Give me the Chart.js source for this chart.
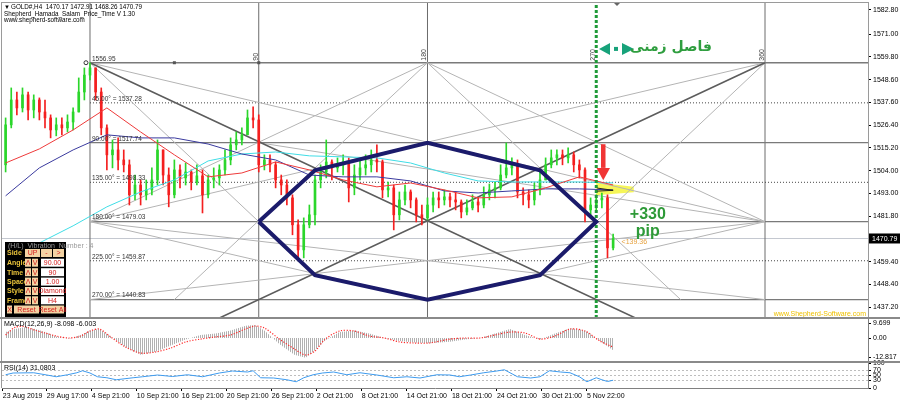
<!DOCTYPE html>
<html>
<head>
<meta charset="utf-8">
<script src="https://cdn.jsdelivr.net/npm/chart.js@4.4.1/dist/chart.umd.min.js"></script>
<style>
    html, body { margin: 0; padding: 0; background: #fff; }
    #wrap { position: relative; width: 900px; height: 401px; overflow: hidden; background: #fff; }
    #wrap canvas { position: absolute; left: 0; }
    .sep { position: absolute; left: 0; width: 900px; height: 2px; background: #8a8a8a; }
</style>
</head>
<body>
<div id="wrap">
    <canvas id="mainChart" width="900" height="318" style="top:0;width:900px;height:318px"></canvas>
    <canvas id="macdChart" width="900" height="44" style="top:318px;width:900px;height:44px"></canvas>
    <canvas id="rsiChart" width="900" height="45" style="top:356px;width:900px;height:45px"></canvas>
    <div class="sep" style="top:317px"></div>
    <div class="sep" style="top:361px"></div>
</div>
<script>
// ---- data (time unit = one H4 bar, 0 = start of the Gann box) ----
var firstCandleTime = -45;
var candleStep = 3;
var firstOpen = 1506.9;
var candleClose = [1526.5, 1538.7, 1534.8, 1541.2, 1533.8, 1538.7, 1532.8, 1529.9, 1524.0, 1526.5,
    1525.0, 1527.9, 1532.8, 1542.6, 1550.9, 1554.4, 1542.6, 1525.0, 1511.8, 1514.2,
    1509.3, 1506.9, 1492.2, 1497.0, 1492.2, 1494.6, 1499.5, 1514.2, 1501.9, 1492.2,
    1504.4, 1500.5, 1503.4, 1498.5, 1501.5, 1492.2, 1499.5, 1500.5, 1504.4, 1509.3,
    1516.7, 1519.1, 1521.6, 1529.9, 1528.9, 1506.9, 1509.3, 1506.9, 1499.5, 1497.0,
    1490.7, 1477.5, 1465.2, 1477.5, 1482.4, 1499.5, 1503.4, 1508.3, 1505.4, 1506.9,
    1508.3, 1495.6, 1501.9, 1505.4, 1506.9, 1509.3, 1508.3, 1494.6, 1495.6, 1482.4,
    1489.7, 1493.6, 1489.7, 1482.4, 1480.9, 1487.2, 1490.7, 1489.7, 1491.2, 1489.7,
    1488.7, 1483.8, 1485.8, 1488.7, 1487.2, 1492.2, 1494.6, 1495.6, 1501.9, 1505.4,
    1506.9, 1493.6, 1492.2, 1489.7, 1494.6, 1499.5, 1506.9, 1510.3, 1511.8, 1510.3,
    1511.8, 1506.9, 1504.4, 1484.8, 1487.2, 1489.7, 1490.7, 1466.2, 1470.79];
var candleHigh = [1529.9, 1544.6, 1542.6, 1544.6, 1542.6, 1541.2, 1539.7, 1538.7, 1531.4, 1529.9,
    1529.9, 1531.4, 1534.8, 1549.5, 1554.4, 1556.95, 1554.4, 1544.6, 1526.5, 1519.1,
    1520.1, 1514.2, 1509.3, 1501.9, 1499.5, 1499.5, 1505.4, 1519.1, 1514.2, 1505.4,
    1509.3, 1506.9, 1507.8, 1504.4, 1506.9, 1504.4, 1501.9, 1505.4, 1506.9, 1514.2,
    1520.1, 1523.0, 1525.0, 1533.8, 1535.3, 1531.4, 1511.8, 1511.8, 1508.3, 1501.9,
    1499.5, 1492.2, 1479.9, 1480.9, 1487.2, 1501.9, 1506.9, 1519.1, 1509.3, 1510.3,
    1511.8, 1510.3, 1506.9, 1510.3, 1511.8, 1514.2, 1516.7, 1509.3, 1498.5, 1497.0,
    1493.6, 1497.0, 1494.6, 1490.7, 1487.2, 1490.7, 1493.6, 1493.6, 1494.6, 1493.1,
    1493.6, 1489.7, 1489.7, 1492.2, 1490.7, 1496.1, 1497.5, 1498.5, 1506.9, 1517.6,
    1510.3, 1509.3, 1495.6, 1494.6, 1498.0, 1503.4, 1510.3, 1514.2, 1514.2, 1514.2,
    1515.2, 1513.2, 1509.3, 1505.4, 1490.7, 1492.2, 1493.1, 1492.2, 1472.91];
var candleLow = [1503.4, 1525.0, 1531.4, 1532.8, 1528.9, 1529.9, 1528.9, 1525.0, 1520.1, 1521.1,
    1521.6, 1523.0, 1524.0, 1532.8, 1538.7, 1548.5, 1538.7, 1521.6, 1504.4, 1505.4,
    1504.4, 1503.4, 1487.2, 1489.7, 1487.2, 1489.7, 1492.2, 1497.0, 1497.0, 1486.3,
    1490.7, 1495.6, 1497.0, 1494.6, 1497.0, 1483.3, 1490.7, 1495.6, 1497.0, 1501.9,
    1506.9, 1514.2, 1516.7, 1521.6, 1525.0, 1503.4, 1504.4, 1503.4, 1495.6, 1492.2,
    1487.2, 1472.6, 1460.3, 1461.3, 1476.0, 1477.5, 1495.6, 1500.5, 1499.5, 1503.4,
    1501.9, 1488.7, 1492.2, 1499.5, 1501.9, 1503.4, 1503.4, 1490.7, 1491.2, 1475.0,
    1479.9, 1487.2, 1485.8, 1478.9, 1477.5, 1479.9, 1483.8, 1485.8, 1487.2, 1486.3,
    1484.8, 1480.9, 1482.4, 1484.8, 1483.8, 1485.8, 1489.7, 1490.7, 1494.6, 1500.5,
    1501.9, 1490.7, 1487.2, 1485.8, 1487.2, 1492.2, 1499.5, 1505.4, 1506.9, 1506.9,
    1507.8, 1503.4, 1500.5, 1478.9, 1482.4, 1483.8, 1485.8, 1461.3, 1465.2];

var maTimes = [-45, -27, -9, 9, 27, 45, 63, 81, 99, 117, 135, 153, 171, 189, 207, 225, 243, 261, 279];
var maRed = [1507.8, 1514.7, 1524.0, 1534.8, 1523.0, 1511.8, 1501.0, 1502.9, 1508.3, 1504.4, 1499.5, 1496.1, 1498.0, 1494.6, 1490.7, 1491.2, 1495.6, 1501.0, 1497.0];
var maBlue = [1491.7, 1505.4, 1514.2, 1521.6, 1520.1, 1520.1, 1517.1, 1512.2, 1509.3, 1501.9, 1501.0, 1501.0, 1499.0, 1494.1, 1493.1, 1494.1, 1495.1, 1495.1, 1494.6];
var maCyan = [null, 1468.6, 1477.0, 1486.3, 1493.6, 1499.5, 1508.8, 1512.2, 1513.2, 1511.3, 1510.8, 1510.3, 1507.8, 1502.9, 1499.0, 1498.5, 1498.5, 1498.5, 1498.0];

var gannTimes = [0, 90, 180, 270, 360];
var gannLevels = [1556.95, 1537.28, 1517.74, 1498.33, 1479.03, 1459.87, 1440.83];
var gannAngles = ['', '45.00°', '90.00°', '135.00°', '180.00°', '225.00°', '270.00°'];
var gannDarkRays = [[0, 1556.95, 330, 1415.0], [40, 1419.33, 360, 1556.95]];
var gannLightRays = [
    [0, 1556.95, 360, 1479.03], [360, 1556.95, 0, 1479.03],
    [0, 1556.95, 90, 1479.03], [360, 1556.95, 270, 1479.03],
    [180, 1556.95, 45, 1440.83], [180, 1556.95, 315, 1440.83],
    [180, 1556.95, 0, 1479.03], [180, 1556.95, 360, 1479.03],
    [180, 1440.83, 0, 1479.03], [180, 1440.83, 360, 1479.03],
    [0, 1479.03, 360, 1440.83], [0, 1440.83, 360, 1479.03],
    [90, 1517.74, 360, 1479.03]
];
var hexTimes = [90, 120, 180, 240, 270, 240, 180, 120, 90];
var hexPrices = [1479.03, 1504.2, 1517.74, 1504.2, 1479.03, 1452.8, 1440.83, 1452.8, 1479.03];

var priceTicks = [1582.80, 1571.00, 1559.80, 1548.60, 1537.60, 1526.40, 1515.20, 1504.00, 1493.00, 1481.80, 1459.40, 1448.40, 1437.20];
var lastPrice = 1470.79;

var macdTimes = [-45, -40, -35, -29, -24, -18, -11, -5, 0, 5, 11, 19, 27, 35, 43, 51, 59, 67, 75, 83, 88, 93, 101, 109, 115, 120, 125, 133, 141, 149, 157, 165, 173, 181, 192, 200, 208, 216, 224, 232, 240, 248, 256, 264, 272, 279];
var macdMain = [4, 6, 7, 6, 4, 1, -0.5, 2, 5, 6, 1, -6, -11, -9, -5, -1, 2, 3, 5, 8, 8.5, 5, -4, -11, -13, -8, -2, 4, 5, 3, 0, -2, -3, -3.5, -2.5, -1, 0, 3, 6, 2, -1, 3, 6.5, 5, -2, -8.098];
var macdSignal = [2, 7, 7.5, 5, 3.3, 1.3, 0, 1.3, 4.6, 5.9, 0.7, -6, -9.9, -9.2, -6.6, -2.6, -0.7, 0.7, 2, 6, 7.9, 6.6, -0.7, -7.2, -11.2, -8.6, -1.3, 4.6, 4.6, 1.3, 0, -2.6, -3.3, -3.3, -0.7, 0, 0, 2, 3.9, 3.3, -0.7, 1.3, 5.9, 4.6, -2, -6.003];
var macdTickValues = [9.699, 0, -12.817];
var macdTickLabels = ['9.699', '0.00', '-12.817'];

var rsiTimes = [-45, -41, -30, -23, -18, -12, -7, -4, 0, 4, 9, 14, 23, 28, 36, 44, 52, 60, 69, 76, 84, 87, 91, 98, 105, 110, 114, 119, 124, 130, 137, 144, 153, 162, 169, 176, 185, 192, 197, 203, 210, 217, 221, 228, 235, 240, 245, 251, 256, 261, 265, 270, 273, 276, 279];
var rsiValues = [53, 60, 61, 52, 45, 53, 61, 69, 60, 45, 41, 33, 41, 45, 52, 46, 53, 45, 60, 68, 64, 69, 41, 40, 33, 25, 41, 53, 60, 64, 53, 61, 52, 41, 45, 40, 53, 52, 45, 52, 61, 68, 73, 45, 40, 45, 69, 64, 61, 45, 25, 41, 33, 26, 31.08];
var rsiLevels = [70, 50, 30];
var rsiTickValues = [100, 70, 50, 30, 0];

var dateTicks = [-46.5, -23, 1, 25, 49, 73, 97, 121, 145, 169, 193, 217, 241, 265];
var dateLabels = ['23 Aug 2019', '29 Aug 17:00', '4 Sep 21:00', '10 Sep 21:00', '16 Sep 21:00', '20 Sep 21:00', '26 Sep 21:00',
    '2 Oct 21:00', '8 Oct 21:00', '14 Oct 21:00', '18 Oct 21:00', '24 Oct 21:00', '30 Oct 21:00', '5 Nov 22:00'];

// ---- shared settings ----
var FONT = "'Liberation Sans', Arial, sans-serif";
var X_MIN = -46.93, X_MAX = 414.93;
var BULL = '#2bd62b', BEAR = '#f41f1f';

function pts(xs, ys) {
    return xs.map(function (t, i) { return { x: t, y: ys[i] }; });
}

function segs(list) {
    var out = [];
    list.forEach(function (s) {
        out.push({ x: s[0], y: s[1] }, { x: s[2], y: s[3] }, { x: s[2], y: null });
    });
    return out;
}

function lineSet(data, color, width, extra) {
    return Object.assign({
        type: 'line', data: data, borderColor: color, borderWidth: width,
        pointRadius: 0, fill: false, tension: 0, spanGaps: false
    }, extra || {});
}

function rightAxis(opts) {
    return Object.assign({
        position: 'right',
        afterFit: function (s) { s.width = 32; s.paddingTop = 0; s.paddingBottom = 0; },
        grid: { drawOnChartArea: false, drawTicks: true, tickLength: 3, color: '#000' },
        border: { display: true, color: '#808080' }
    }, opts);
}

function txt(ctx, s, x, y, font, color, align, base) {
    ctx.font = font;
    ctx.fillStyle = color;
    ctx.textAlign = align || 'left';
    ctx.textBaseline = base || 'middle';
    ctx.fillText(s, x, y);
}

var baseOptions = {
    responsive: false,
    animation: false,
    devicePixelRatio: 1,
    events: [],
    plugins: { legend: { display: false }, tooltip: { enabled: false } }
};

// ---- main price panel ----
var candleTimes = candleClose.map(function (c, i) { return firstCandleTime + i * candleStep; });
var candleOpen = candleClose.map(function (c, i) { return i === 0 ? firstOpen : candleClose[i - 1]; });
var candleColors = candleClose.map(function (c, i) { return c >= candleOpen[i] ? BULL : BEAR; });

var verticalSegs = gannTimes.filter(function (t) { return t !== 270; }).map(function (t) { return [t, 1400, t, 1600]; });
var solidLevelSegs = [0, 2, 4, 6].map(function (i) { return [0, gannLevels[i], 420, gannLevels[i]]; });
var dottedLevelSegs = [1, 3, 5].map(function (i) { return [0, gannLevels[i], 420, gannLevels[i]]; });

var mainOverlay = {
    id: 'mainOverlay',
    beforeDatasetsDraw: function (chart) {
        var ctx = chart.ctx, a = chart.chartArea, x = chart.scales.x, y = chart.scales.y;
        ctx.save();
        // bid line
        var yb = Math.round(y.getPixelForValue(lastPrice)) + 0.5;
        ctx.strokeStyle = '#c4c8d0';
        ctx.lineWidth = 1;
        ctx.beginPath(); ctx.moveTo(a.left, yb); ctx.lineTo(a.right, yb); ctx.stroke();
        // yellow marker near the break
        ctx.fillStyle = 'rgba(245,245,70,0.9)';
        ctx.beginPath();
        ctx.moveTo(x.getPixelForValue(270), y.getPixelForValue(1498.2));
        ctx.lineTo(x.getPixelForValue(290), y.getPixelForValue(1496.2));
        ctx.lineTo(x.getPixelForValue(290), y.getPixelForValue(1493.4));
        ctx.lineTo(x.getPixelForValue(270), y.getPixelForValue(1492.0));
        ctx.closePath(); ctx.fill();
        ctx.restore();
    },
    afterDatasetsDraw: function (chart) {
        var ctx = chart.ctx, a = chart.chartArea, x = chart.scales.x, y = chart.scales.y;
        var f7 = '7px ' + FONT;
        ctx.save();

        // small black triangle inside the yellow marker
        ctx.strokeStyle = '#222'; ctx.lineWidth = 1;
        ctx.beginPath();
        ctx.moveTo(x.getPixelForValue(270.5), y.getPixelForValue(1495.5));
        ctx.lineTo(x.getPixelForValue(279), y.getPixelForValue(1494.4));
        ctx.lineTo(x.getPixelForValue(270.5), y.getPixelForValue(1494.0));
        ctx.stroke();

        // Gann level labels
        var x0 = x.getPixelForValue(0);
        gannLevels.forEach(function (p, i) {
            var s = i === 0 ? p.toFixed(2) : gannAngles[i] + ' = ' + p.toFixed(2);
            txt(ctx, s, x0 + 2, y.getPixelForValue(p) - 4, '6.5px ' + FONT, '#333', 'left', 'middle');
        });
        // origin marker and small dots
        ctx.strokeStyle = '#333';
        ctx.beginPath(); ctx.arc(x0 - 4, y.getPixelForValue(1556.95), 2, 0, Math.PI * 2); ctx.stroke();
        ctx.fillStyle = '#555';
        [45, 90].forEach(function (t) {
            ctx.fillRect(x.getPixelForValue(t) - 1.5, y.getPixelForValue(1556.95) - 1.5, 3, 3);
        });
        // rotated time labels
        gannTimes.slice(1).forEach(function (t) {
            ctx.save();
            ctx.translate(x.getPixelForValue(t) - 3, y.getPixelForValue(1556.95) - 2);
            ctx.rotate(-Math.PI / 2);
            txt(ctx, String(t), 0, 0, f7, '#444', 'left', 'middle');
            ctx.restore();
        });

        // header
        var fh = '6.3px ' + FONT;
        txt(ctx, '▼', 4, 7, '6px ' + FONT, '#000', 'left', 'middle');
        txt(ctx, 'GOLD#,H4  1470.17 1472.91 1468.26 1470.79', 11, 7, fh, '#000', 'left', 'middle');
        txt(ctx, 'Shepherd_Hamada_Salam_Price_Time V 1.30', 4, 13.8, fh, '#000', 'left', 'middle');
        txt(ctx, 'www.shepherd-software.com', 4, 20, fh, '#000', 'left', 'middle');

        // top marker
        ctx.fillStyle = '#666';
        ctx.beginPath(); ctx.moveTo(614, 3); ctx.lineTo(620, 3); ctx.lineTo(617, 6); ctx.closePath(); ctx.fill();

        // time-interval caption
        var ya = y.getPixelForValue(1564.7);
        ctx.fillStyle = '#17a27a';
        ctx.beginPath(); ctx.moveTo(599, ya + 2); ctx.lineTo(610, ya - 4); ctx.lineTo(610, ya + 8); ctx.closePath(); ctx.fill();
        ctx.fillRect(614, ya, 4, 4);
        ctx.beginPath(); ctx.moveTo(622, ya - 4); ctx.lineTo(622, ya + 8); ctx.lineTo(634, ya + 2); ctx.closePath(); ctx.fill();
        txt(ctx, 'فاصل زمنی', 671, ya, "bold 14px 'DejaVu Sans', sans-serif", '#2f9e3f', 'center', 'middle');

        // red arrow
        var xa = x.getPixelForValue(273.6);
        var yTop = y.getPixelForValue(1517.0), yNeck = y.getPixelForValue(1505.4), yTip = y.getPixelForValue(1499.3);
        ctx.fillStyle = '#f03535';
        ctx.fillRect(xa - 2, yTop, 4.5, yNeck - yTop);
        ctx.beginPath(); ctx.moveTo(xa - 6.5, yNeck); ctx.lineTo(xa + 7, yNeck); ctx.lineTo(xa + 0.25, yTip); ctx.closePath(); ctx.fill();

        // +330 pip
        var xg = x.getPixelForValue(297.5);
        txt(ctx, '+330', xg, y.getPixelForValue(1482.4), 'bold 16px ' + FONT, '#2e9a38', 'center', 'middle');
        txt(ctx, 'pip', xg, y.getPixelForValue(1474.0), 'bold 16px ' + FONT, '#2e9a38', 'center', 'middle');
        txt(ctx, '<139.36', x.getPixelForValue(283.5), y.getPixelForValue(1468.8), '7px ' + FONT, '#e6a03c', 'left', 'middle');

        // watermark
        txt(ctx, 'www.Shepherd-Software.com', a.right - 2, a.bottom - 4, f7, '#eec000', 'right', 'middle');

        drawPanel(ctx);
        ctx.restore();
    },
    afterDraw: function (chart) {
        var ctx = chart.ctx, a = chart.chartArea, y = chart.scales.y;
        ctx.save();
        ctx.strokeStyle = '#9a9a9a'; ctx.lineWidth = 1;
        ctx.strokeRect(a.left - 0.5, a.top - 0.5, a.right - a.left + 1, a.bottom - a.top + 1);
        var yp = y.getPixelForValue(lastPrice);
        ctx.fillStyle = '#000';
        ctx.fillRect(a.right + 1, yp - 5, 31, 10);
        txt(ctx, lastPrice.toFixed(2), a.right + 4, yp + 0.5, '7px ' + FONT, '#fff', 'left', 'middle');
        ctx.restore();
    }
};

function drawPanel(ctx) {
    var f = '7px ' + FONT, fb = 'bold 7px ' + FONT;
    var beige = '#f3d3a3', red = '#d42020';
    ctx.fillStyle = '#000';
    ctx.fillRect(5, 242, 61, 75);
    txt(ctx, '(H/L)  Vibration  Number : 4', 8, 246.5, f, '#9a9a9a', 'left', 'middle');

    function btn(x1, x2, yc, label, bg) {
        ctx.fillStyle = bg;
        ctx.fillRect(x1, yc - 4, x2 - x1, 8);
        txt(ctx, label, (x1 + x2) / 2, yc + 0.5, f, red, 'center', 'middle');
    }

    var rows = [['Side', 253], ['Angle', 262.7], ['Time', 272.2], ['Space', 281.6], ['Style', 291], ['Frame', 300.3]];
    var values = ['', '90.00', '90', '1.00', 'Diamond', 'H4'];
    rows.forEach(function (r, i) {
        txt(ctx, r[0], 7, r[1] + 0.5, fb, '#e8c23a', 'left', 'middle');
        if (i === 0) {
            btn(25, 40, r[1], 'UP', beige);
            btn(41, 52, r[1], '-', beige);
            btn(53, 64, r[1], '>', beige);
        } else {
            btn(25, 31, r[1], 'Λ', beige);
            btn(32, 38, r[1], 'V', beige);
            btn(41, 64, r[1], values[i], '#ffffff');
        }
    });
    btn(7, 12, 309.5, 'X', beige);
    btn(14, 39, 309.5, 'Reset', beige);
    btn(41, 64, 309.5, 'Reset All', beige);
}

new Chart(document.getElementById('mainChart'), {
    type: 'bar',
    data: {
        datasets: [
            lineSet(pts(hexTimes, hexPrices), '#1b1b6b', 4, { order: 0, borderJoinStyle: 'miter' }),
            lineSet([{ x: 270, y: 1400 }, { x: 270, y: 1600 }], '#1f9a38', 3, { order: 1, borderDash: [3, 2] }),
            lineSet(pts(maTimes, maRed), '#ee3a3a', 1, { order: 2 }),
            lineSet(pts(maTimes, maBlue), '#3a3a9e', 1, { order: 2 }),
            lineSet(pts(maTimes, maCyan), '#3fdde6', 1, { order: 2 }),
            {
                type: 'bar', order: 3, grouped: false, barThickness: 2, minBarLength: 1,
                data: candleTimes.map(function (t, i) { return { x: t, y: [candleOpen[i], candleClose[i]] }; }),
                backgroundColor: candleColors, borderWidth: 0
            },
            {
                type: 'bar', order: 4, grouped: false, barThickness: 1,
                data: candleTimes.map(function (t, i) { return { x: t, y: [candleLow[i], candleHigh[i]] }; }),
                backgroundColor: candleColors, borderWidth: 0
            },
            lineSet(segs(gannDarkRays), '#5c5c5c', 1.6, { order: 5 }),
            lineSet(segs(gannLightRays), '#b4b4b4', 1, { order: 6 }),
            lineSet(segs(solidLevelSegs), '#7a7a7a', 1.3, { order: 7 }),
            lineSet(segs(dottedLevelSegs), '#444444', 1, { order: 7, borderDash: [1, 2] }),
            lineSet(segs(verticalSegs), '#6c6c6c', 1, { order: 8 })
        ]
    },
    options: Object.assign({}, baseOptions, {
        layout: { padding: { left: 2, top: 3, right: 0, bottom: 0 } },
        scales: {
            x: { type: 'linear', min: X_MIN, max: X_MAX, display: false, offset: false },
            y: rightAxis({
                min: 1431.81, max: 1586.23,
                afterBuildTicks: function (s) { s.ticks = priceTicks.map(function (v) { return { value: v }; }); },
                ticks: { autoSkip: false, padding: 2, color: '#000', font: { family: FONT, size: 7 },
                    callback: function (v) { return Number(v).toFixed(2); } }
            })
        }
    }),
    plugins: [mainOverlay]
});

// ---- MACD panel ----
var hatchCanvas = document.createElement('canvas');
hatchCanvas.width = 2; hatchCanvas.height = 2;
var hctx = hatchCanvas.getContext('2d');
hctx.fillStyle = '#b0b0b0';
hctx.fillRect(0, 0, 1, 2);
var hatch = hctx.createPattern(hatchCanvas, 'repeat');

var panelOverlay = function (id, title, ty) {
    return {
        id: id,
        afterDraw: function (chart) {
            var ctx = chart.ctx, a = chart.chartArea;
            ctx.save();
            ctx.strokeStyle = '#9a9a9a'; ctx.lineWidth = 1;
            ctx.beginPath(); ctx.moveTo(a.left - 0.5, a.top); ctx.lineTo(a.left - 0.5, a.bottom); ctx.stroke();
            txt(ctx, title, 4, ty, '7px ' + FONT, '#000', 'left', 'middle');
            ctx.restore();
        }
    };
};

new Chart(document.getElementById('macdChart'), {
    type: 'line',
    data: {
        datasets: [
            { data: pts(macdTimes, macdMain), backgroundColor: hatch, fill: 'origin', borderWidth: 0,
                borderColor: 'rgba(0,0,0,0)', pointRadius: 0, tension: 0, order: 2 },
            lineSet(pts(macdTimes, macdSignal), '#ff2b2b', 1.2, { order: 1, borderDash: [1.2, 1.6], tension: 0.3 })
        ]
    },
    options: Object.assign({}, baseOptions, {
        layout: { padding: { left: 2, top: 1, right: 0, bottom: 1 } },
        scales: {
            x: { type: 'linear', min: X_MIN, max: X_MAX, display: false, offset: false },
            y: rightAxis({
                min: -15.14, max: 12.51,
                afterBuildTicks: function (s) { s.ticks = macdTickValues.map(function (v) { return { value: v }; }); },
                ticks: { autoSkip: false, padding: 2, color: '#000', font: { family: FONT, size: 7 },
                    callback: function (v, i) { return macdTickLabels[i]; } }
            })
        }
    }),
    plugins: [panelOverlay('macdOverlay', 'MACD(12,26,9) -8.098 -6.003', 6)]
});

// ---- RSI panel ----
new Chart(document.getElementById('rsiChart'), {
    type: 'line',
    data: {
        datasets: rsiLevels.map(function (lv) {
            return lineSet([{ x: X_MIN, y: lv }, { x: X_MAX, y: lv }], '#bdbdbd', 1, { order: 2, borderDash: [2, 2] });
        }).concat([lineSet(pts(rsiTimes, rsiValues), '#3d9bef', 1, { order: 1 })])
    },
    options: Object.assign({}, baseOptions, {
        layout: { padding: { left: 2, top: 7, right: 0, bottom: 0 } },
        scales: {
            x: {
                type: 'linear', min: X_MIN, max: X_MAX, offset: false, position: 'bottom',
                afterFit: function (s) { s.height = 13; s.paddingLeft = 0; s.paddingRight = 0; },
                afterBuildTicks: function (s) { s.ticks = dateTicks.map(function (v) { return { value: v }; }); },
                ticks: { autoSkip: false, maxRotation: 0, minRotation: 0, align: 'start', padding: 1, color: '#000',
                    font: { family: FONT, size: 7 }, callback: function (v, i) { return dateLabels[i]; } },
                grid: { drawOnChartArea: false, drawTicks: true, tickLength: 3, color: '#000' },
                border: { display: true, color: '#808080' }
            },
            y: rightAxis({
                min: 0, max: 100,
                afterBuildTicks: function (s) { s.ticks = rsiTickValues.map(function (v) { return { value: v }; }); },
                ticks: { autoSkip: false, padding: 2, color: '#000', font: { family: FONT, size: 7 } }
            })
        }
    }),
    plugins: [panelOverlay('rsiOverlay', 'RSI(14) 31.0803', 12)]
});
</script>
</body>
</html>
